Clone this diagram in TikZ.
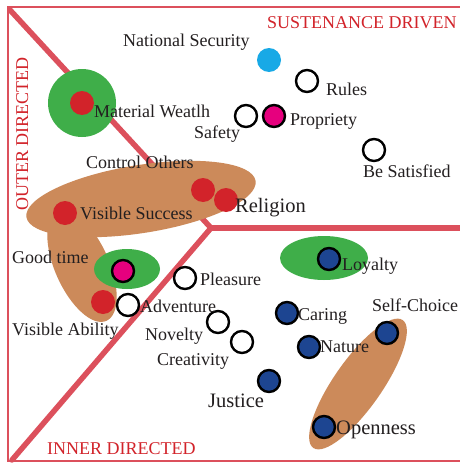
\documentclass[tikz,border=0pt]{standalone}
\usepackage{fontspec}
\setmainfont{Liberation Serif}
\definecolor{lred}{HTML}{DC505C}
\definecolor{hred}{HTML}{D2232A}
\definecolor{dred}{HTML}{D2232A}
\definecolor{txt}{HTML}{231F20}
\definecolor{dblue}{HTML}{1D4591}
\definecolor{pinkc}{HTML}{E6007E}
\definecolor{cyanc}{HTML}{18A9E6}
\definecolor{greenc}{HTML}{3FAE49}
\definecolor{brownc}{HTML}{CC8A5A}
\begin{document}
\begin{tikzpicture}[x=1pt,y=-1pt,
 lbl/.style={font=\fontsize{18}{20}\selectfont, text=txt, inner sep=0pt, anchor=base west},
 biglbl/.style={lbl, font=\fontsize{20.5}{22}\selectfont},
 hdr/.style={font=\fontsize{18}{20}\selectfont, text=hred, inner sep=0pt, anchor=base west},
 dot/.style={circle, inner sep=0pt, minimum size=24pt},
 rdot/.style={dot, fill=dred},
 cdot/.style={dot, fill=cyanc},
 odot/.style={circle, inner sep=0pt, minimum size=22pt, draw=black, line width=2.4pt},
 wdot/.style={odot, fill=white},
 bdot/.style={odot, fill=dblue},
 pdot/.style={odot, fill=pinkc},
 divider/.style={draw=lred, line width=5.5pt, line cap=round},
 framel/.style={draw=lred, line width=2pt}]
\useasboundingbox (0,0) rectangle (460,463);
\fill[white] (0,0) rectangle (460,463);
% frame
\coordinate (ftr) at (460,7);
\coordinate (ftl) at (8,7);
\coordinate (fbl) at (8,461);
\coordinate (fbr) at (460,461);
\draw[framel] (ftr) -- (ftl) -- (fbl) -- (fbr);
% dividers
\coordinate (dtl) at (10,10);
\coordinate (ctr) at (211,228);
\coordinate (dbl) at (12,460);
\coordinate (dr) at (462,228);
\draw[divider] (dtl) -- (ctr) -- (dbl);
\draw[divider] (ctr) -- (dr);
% blobs
\fill[brownc, rotate around={9:(141,199)}] (141,199) ellipse [x radius=116, y radius=34];
\fill[brownc, rotate around={-66:(82,266)}] (82,266) ellipse [x radius=60, y radius=27];
\fill[brownc, rotate around={55:(358,384)}] (358,384) ellipse [x radius=78, y radius=24];
\fill[greenc] (82,103) circle [radius=34];
\fill[greenc] (127,269) ellipse [x radius=33, y radius=20];
\fill[greenc] (324,258) ellipse [x radius=44, y radius=22];
% headers
\node[hdr] (sd) at (267,28) {SUSTENANCE DRIVEN};
\node[hdr, rotate=90, anchor=base] (od) at (28,134) {OUTER DIRECTED};
\node[hdr] (id) at (47,454) {INNER DIRECTED};
% dots
\node[cdot] (nsd) at (269,60) {};
\node[wdot] (rud) at (307,81) {};
\node[wdot] (sad) at (246,116) {};
\node[pdot] (prd) at (274,116) {};
\node[wdot] (bsd) at (374,150) {};
\node[rdot] (mwd) at (82,103) {};
\node[rdot] (cod) at (203,190) {};
\node[rdot] (red) at (226,200) {};
\node[rdot] (vsd) at (65,213) {};
\node[pdot] (gtd) at (123,271) {};
\node[rdot] (vad) at (103,302) {};
\node[wdot] (add) at (128,305) {};
\node[wdot] (pld) at (185,278) {};
\node[wdot] (nod) at (218,322) {};
\node[wdot] (crd) at (242,342) {};
\node[bdot] (lod) at (329,259) {};
\node[bdot] (cad) at (287,313) {};
\node[bdot] (nad) at (309,347) {};
\node[bdot] (jud) at (269,381) {};
\node[bdot] (scd) at (387,333) {};
\node[bdot] (opd) at (324,427) {};
% labels
\node[lbl] (ns) at (123,46) {National Security};
\node[lbl] (ru) at (326,95) {Rules};
\node[lbl] (pr) at (290,125) {Propriety};
\node[lbl] (sa) at (194,138) {Safety};
\node[lbl] (bs) at (363,177) {Be Satisfied};
\node[lbl] (mw) at (94,117) {Material Weatlh};
\node[lbl] (co) at (86,168) {Control Others};
\node[lbl] (vs) at (80,219) {Visible Success};
\node[biglbl] (re) at (235,212) {Religion};
\node[lbl] (gt) at (12,263) {Good time};
\node[lbl] (pl) at (200,285) {Pleasure};
\node[lbl] (ad) at (140,312) {Adventure};
\node[lbl] (va) at (12,335) {Visible Ability};
\node[lbl] (no) at (145,340) {Novelty};
\node[lbl] (cr) at (157,365) {Creativity};
\node[biglbl] (ju) at (208,407) {Justice};
\node[lbl] (lo) at (342,270) {Loyalty};
\node[lbl] (ca) at (298,320) {Caring};
\node[lbl] (sc) at (372,311) {Self-Choice};
\node[lbl] (na) at (320,352) {Nature};
\node[biglbl] (op) at (336,434) {Openness};
\end{tikzpicture}
\end{document}
